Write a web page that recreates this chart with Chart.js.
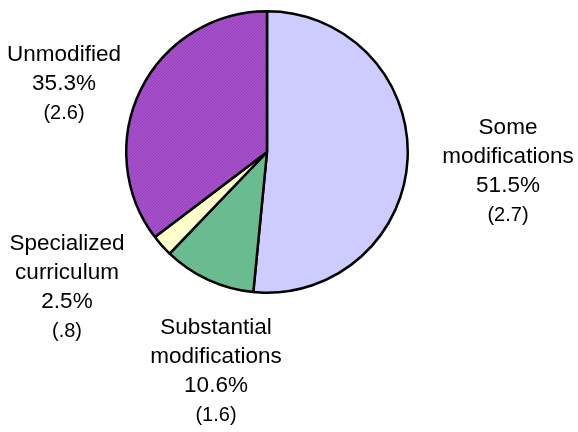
<!DOCTYPE html>
<html>
<head>
<meta charset="utf-8">
<script src="https://cdn.jsdelivr.net/npm/chart.js@4/dist/chart.umd.min.js"></script>
<style>
  html, body { margin: 0; padding: 0; background: #fff; }
  #wrap { width: 578px; height: 432px; position: relative; }
</style>
</head>
<body>
<div id="wrap"><canvas id="pie"></canvas></div>
<script>
// Data
const categories = ['Some modifications', 'Substantial modifications', 'Specialized curriculum', 'Unmodified'];
const shares = [51.5, 10.6, 2.5, 35.3];
const stdErrors = ['(2.7)', '(1.6)', '(.8)', '(2.6)'];
const labelLines = [['Some', 'modifications'], ['Substantial', 'modifications'], ['Specialized', 'curriculum'], ['Unmodified']];

const baseColors = ['#ccccff', '#6fbf95', '#ffffcc', '#a650c9'];
const hatchColors = [null, '#62b288', null, '#9442bb'];

// fine texture like the original fill
function hatch(base, line) {
  if (!line) return base;
  const c = document.createElement('canvas');
  c.width = 3; c.height = 3;
  const g = c.getContext('2d');
  g.fillStyle = base;
  g.fillRect(0, 0, 3, 3);
  g.fillStyle = line;
  g.fillRect(0, 2, 1, 1); g.fillRect(1, 1, 1, 1); g.fillRect(2, 0, 1, 1);
  return g.createPattern(c, 'repeat');
}

// centre of each label block (first line)
const labelPos = [
  { x: 508, y: 128 },
  { x: 216, y: 328 },
  { x: 67, y: 244 },
  { x: 64, y: 55 }
];

const labelPlugin = {
  id: 'sliceLabels',
  afterDraw(chart) {
    const ctx = chart.ctx;
    ctx.save();
    ctx.fillStyle = '#000';
    ctx.textAlign = 'center';
    ctx.textBaseline = 'middle';
    categories.forEach((cat, i) => {
      const p = labelPos[i];
      const lines = labelLines[i].concat([shares[i].toFixed(1) + '%']);
      ctx.font = '22.5px "Liberation Sans", Arial, sans-serif';
      lines.forEach((t, k) => ctx.fillText(t, p.x, p.y + k * 29));
      ctx.font = '20px "Liberation Sans", Arial, sans-serif';
      ctx.fillText(stdErrors[i], p.x, p.y + lines.length * 29);
    });
    ctx.restore();
  }
};

new Chart(document.getElementById('pie'), {
  type: 'pie',
  data: {
    labels: categories,
    datasets: [{
      data: shares,
      backgroundColor: baseColors.map((b, i) => hatch(b, hatchColors[i])),
      borderColor: '#000',
      borderWidth: 2.5
    }]
  },
  options: {
    responsive: true,
    maintainAspectRatio: false,
    animation: false,
    layout: {
      padding: { top: 10, bottom: 138, left: 125, right: 169 }
    },
    plugins: {
      legend: { display: false },
      tooltip: { enabled: false }
    }
  },
  plugins: [labelPlugin]
});
</script>
</body>
</html>
